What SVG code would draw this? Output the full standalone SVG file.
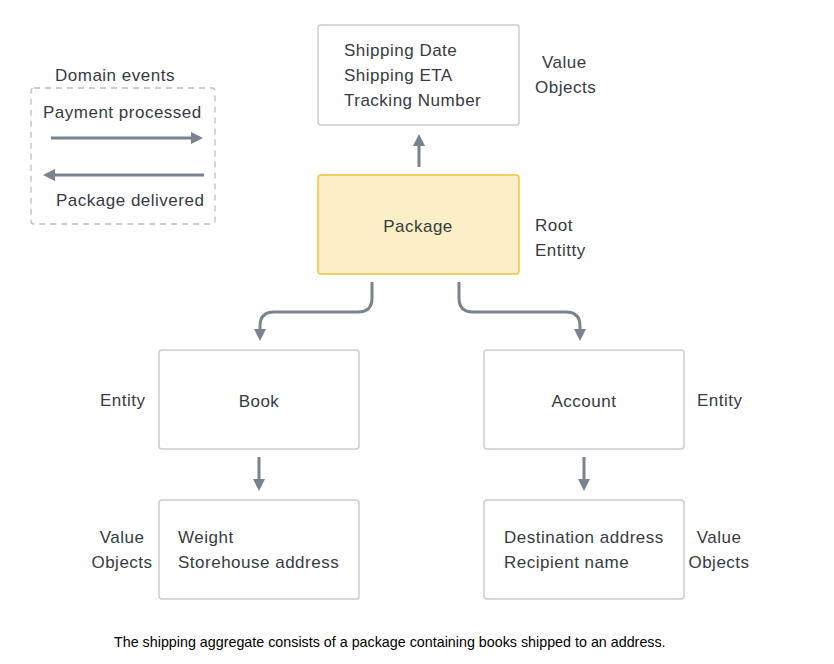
<svg xmlns="http://www.w3.org/2000/svg" width="834" height="664" viewBox="0 0 834 664">
<style>
.box{fill:#ffffff;stroke:#c9cdd2;stroke-width:1.5}
.root{fill:#fcefc6;stroke:#f0c541;stroke-width:1.5}
.t{font-family:"Liberation Sans",Arial,sans-serif;font-size:17px;letter-spacing:0.5px;fill:#363b42}
.c{text-anchor:middle}
.cap{font-family:"Liberation Sans",Arial,sans-serif;font-size:14.3px;fill:#000}
.ln{fill:none;stroke:#78838f;stroke-width:3}
</style>
<defs>
<marker id="ah" viewBox="0 0 10 10" refX="5" refY="5" markerWidth="4" markerHeight="4" orient="auto" markerUnits="strokeWidth">
<path d="M0,0 L10,5 L0,10 z" fill="#78838f"/>
</marker>
</defs>
<rect width="834" height="664" fill="#ffffff"/>

<g id="legend">
<rect x="31" y="88" width="184" height="136" rx="3" fill="none" stroke="#b9bec4" stroke-width="1.3" stroke-dasharray="6,5"/>
<text class="t" x="55" y="81">Domain events</text>
<text class="t" x="43" y="118">Payment processed</text>
<text class="t" x="56" y="206">Package delivered</text>
</g>

<g id="values-top">
<rect class="box" x="318" y="25" width="201" height="100" rx="3"/>
<text class="t" x="344" y="56">Shipping Date</text>
<text class="t" x="344" y="81">Shipping ETA</text>
<text class="t" x="344" y="106">Tracking Number</text>
<text class="t" x="542" y="68">Value</text>
<text class="t" x="535" y="93">Objects</text>
</g>

<g id="package">
<rect class="root" x="318" y="175" width="201" height="99" rx="3"/>
<text class="t c" x="418" y="232">Package</text>
<text class="t" x="535" y="231">Root</text>
<text class="t" x="535" y="256">Entitty</text>
</g>

<g id="book">
<rect class="box" x="159" y="350" width="200" height="99" rx="3"/>
<text class="t c" x="259" y="407">Book</text>
<text class="t" x="100" y="406">Entity</text>
</g>

<g id="account">
<rect class="box" x="484" y="350" width="200" height="99" rx="3"/>
<text class="t c" x="584" y="407">Account</text>
<text class="t" x="697" y="406">Entity</text>
</g>

<g id="values-book">
<rect class="box" x="159" y="500" width="200" height="99" rx="3"/>
<text class="t" x="178" y="543">Weight</text>
<text class="t" x="178" y="568">Storehouse address</text>
<text class="t c" x="122" y="543">Value</text>
<text class="t c" x="122" y="568">Objects</text>
</g>

<g id="values-account">
<rect class="box" x="484" y="500" width="200" height="99" rx="3"/>
<text class="t" x="504" y="543">Destination address</text>
<text class="t" x="504" y="568">Recipient name</text>
<text class="t c" x="719" y="543">Value</text>
<text class="t c" x="719" y="568">Objects</text>
</g>

<g id="connectors">
<line class="ln" x1="51" y1="138" x2="197" y2="138" marker-end="url(#ah)"/>
<line class="ln" x1="204" y1="175" x2="49" y2="175" marker-end="url(#ah)"/>
<line class="ln" x1="419" y1="167" x2="419" y2="140" marker-end="url(#ah)"/>
<path class="ln" d="M372,282 V298 Q372,312 358,312 H274 Q260,312 260,326 V335" marker-end="url(#ah)"/>
<path class="ln" d="M459,282 V298 Q459,312 473,312 H566 Q580,312 580,326 V335" marker-end="url(#ah)"/>
<line class="ln" x1="259" y1="457" x2="259" y2="485" marker-end="url(#ah)"/>
<line class="ln" x1="584" y1="457" x2="584" y2="485" marker-end="url(#ah)"/>
</g>

<text class="cap" x="114" y="647">The shipping aggregate consists of a package containing books shipped to an address.</text>
</svg>
